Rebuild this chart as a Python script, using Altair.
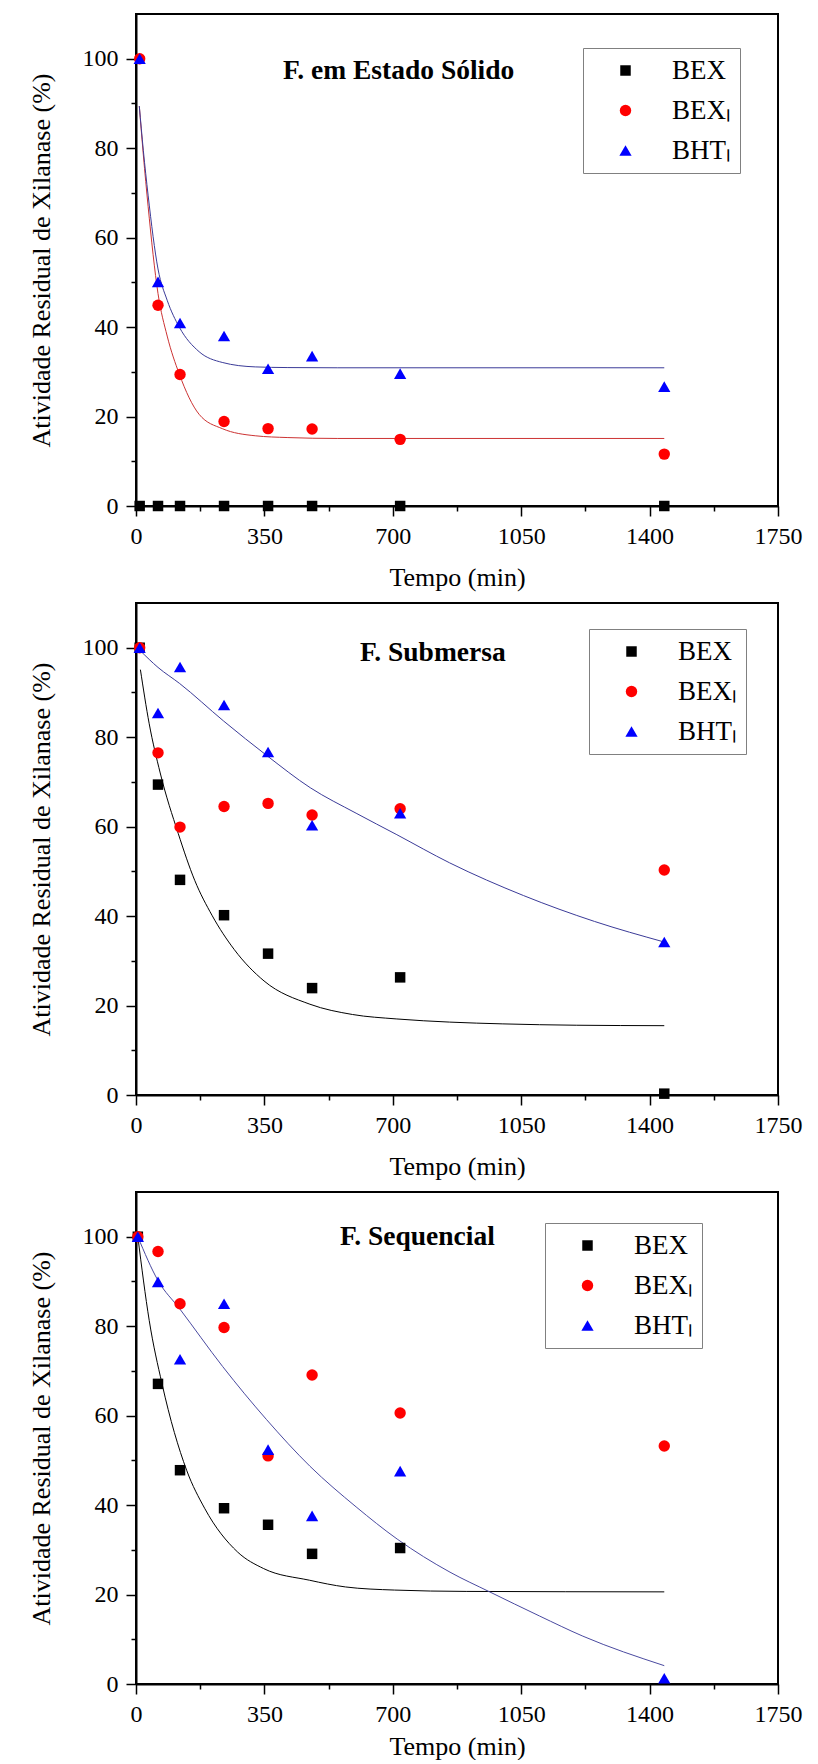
import altair as alt
import pandas as pd

SERIES = ["BEX", "BEX\u2097", "BHT\u2097"]
COLORS = ["#000000", "#ff0000", "#0000ff"]
SHAPES = ["square", "circle", "triangle-up"]
SIZES = [110, 150, 170]

X_TICKS = [0, 175, 350, 525, 700, 875, 1050, 1225, 1400, 1575, 1750]
Y_TICKS = [0, 10, 20, 30, 40, 50, 60, 70, 80, 90, 100]

# Panel 1: F. em Estado Sólido
p1_t = [10, 60, 120, 240, 360, 480, 720, 1440]
p1_bex = [0, 0, 0, 0, 0, 0, 0, 0]
p1_bexl = [100, 44.9, 29.4, 18.9, 17.3, 17.2, 14.9, 11.6]
p1_bhtl = [100, 50.1, 40.9, 38.0, 30.7, 33.5, 29.6, 26.7]
p1_fit_t = [9, 20, 33, 60, 85, 118, 172, 235, 325, 414, 550, 1440]
p1_fit_bexl = [89.4, 78.5, 67, 47.5, 38, 29.5, 20.5, 17.3, 15.7, 15.3, 15.1, 15.1]
p1_fit_bhtl = [89.4, 79.5, 69.5, 53, 46, 40, 34.5, 32.1, 31.1, 30.95, 30.9, 30.9]

# Panel 2: F. Submersa
p2_t = [10, 60, 120, 240, 360, 480, 720, 1440]
p2_bex = [100, 69.4, 48.1, 40.2, 31.6, 23.9, 26.3, 0.3]
p2_bexl = [100, 76.5, 59.9, 64.5, 65.2, 62.6, 64.0, 50.3]
p2_bhtl = [100, 85.4, 95.7, 87.2, 76.7, 60.3, 63.0, 34.2]
p2_fit_bex_t = [12, 36, 66, 115, 160, 207, 268, 349, 474, 590, 711, 855, 1000, 1200, 1440]
p2_fit_bex = [95.1, 83, 72, 58.5, 48, 40.2, 32.5, 25.5, 20.3, 18, 17, 16.3, 15.9, 15.6, 15.5]
p2_fit_bht_t = [12, 60, 119, 239, 358, 475, 600, 711, 855, 1056, 1250, 1440]
p2_fit_bht = [99.3, 95.6, 92.0, 83.6, 75.8, 68.7, 63, 58.2, 51.9, 44.6, 38.8, 34.2]

# Panel 3: F. Sequencial
p3_t = [5, 60, 120, 240, 360, 480, 720, 1440]
p3_bex = [100, 67.1, 47.8, 39.3, 35.6, 29.1, 30.4]
p3_bexl = [100, 96.7, 85.0, 79.7, 51.0, 69.1, 60.6, 53.2]
p3_bhtl = [100, 89.9, 72.6, 85.0, 52.4, 37.6, 47.6, 1.3]
p3_fit_bex_t = [5, 36, 71, 138, 187, 277, 348, 473, 571, 705, 900, 1440]
p3_fit_bex = [100, 81.3, 67.1, 47.8, 39.3, 29.5, 25.8, 23.2, 21.7, 21.0, 20.7, 20.6]
p3_fit_bht_t = [5, 60, 119, 236, 356, 474, 600, 712, 856, 964, 1100, 1218, 1440]
p3_fit_bht = [100, 90.2, 83.9, 71, 59.1, 48.7, 39.6, 32.4, 25, 20.6, 15.2, 10.7, 4.1]

FONT = "Liberation Serif"
X_TITLE = "Tempo (min)"
Y_TITLE = "Atividade Residual de Xilanase (%)"

W, H = 642, 492


def xenc(tpad):
    return alt.X(
        "t:Q",
        title=X_TITLE,
        scale=alt.Scale(domain=[0, 1750], nice=False, zero=False),
        axis=alt.Axis(
            values=X_TICKS,
            format="d",
            labelExpr="datum.value % 350 === 0 ? datum.label : ''",
            tickSize={"condition": {"test": "datum.value % 350 === 0", "value": 10}, "value": 5},
            grid=False,
            labelFlush=False,
            labelOverlap=False,
            labelFont=FONT,
            labelFontSize=24,
            titleFont=FONT,
            titleFontSize=26,
            titlePadding=tpad,
        ),
    )


def yenc():
    return alt.Y(
        "y:Q",
        title=Y_TITLE,
        scale=alt.Scale(domain=[0, 110], nice=False, zero=False),
        axis=alt.Axis(
            values=Y_TICKS,
            format="d",
            labelExpr="datum.value % 20 === 0 ? datum.label : ''",
            tickSize={"condition": {"test": "datum.value % 20 === 0", "value": 10}, "value": 5},
            grid=False,
            labelOverlap=False,
            labelFont=FONT,
            labelFontSize=24,
            titleFont=FONT,
            titleFontSize=26,
            titlePadding=28,
        ),
    )


def panel(t, series_vals, fits, title, tdx, tdy, lx, ly, tpad):
    rows = []
    for name, vals in zip(SERIES, series_vals):
        for ti, v in zip(t, vals):
            rows.append({"t": ti, "y": v, "series": name})
    leg = alt.Legend(
        title=None,
        orient="none",
        legendX=lx,
        legendY=ly,
        labelFont=FONT,
        labelFontSize=27,
        labelColor="black",
        labelLimit=0,
        symbolSize=125,
        symbolStrokeWidth=0,
        symbolOffset=20,
        labelOffset=33,
        rowPadding=12,
        padding=9,
        strokeColor="#808080",
    )
    pts = alt.Chart(pd.DataFrame(rows)).mark_point(filled=True, opacity=1).encode(
        x=xenc(tpad),
        y=yenc(),
        color=alt.Color("series:N", scale=alt.Scale(domain=SERIES, range=COLORS), legend=leg),
        shape=alt.Shape("series:N", scale=alt.Scale(domain=SERIES, range=SHAPES), legend=leg),
        size=alt.Size("series:N", scale=alt.Scale(domain=SERIES, range=SIZES), legend=None),
    )
    layers = []
    for ft, fy, col in fits:
        df = pd.DataFrame({"t": ft, "y": fy})
        layers.append(
            alt.Chart(df).mark_line(color=col, strokeWidth=1, interpolate="monotone").encode(
                x=alt.X("t:Q", title=X_TITLE), y=alt.Y("y:Q", title=Y_TITLE)
            )
        )
    layers.append(pts)
    return alt.layer(*layers).properties(
        width=W,
        height=H,
        title=alt.TitleParams(
            title,
            anchor="start",
            frame="group",
            orient="top",
            offset=0,
            dx=tdx,
            dy=tdy,
            baseline="alphabetic",
            font=FONT,
            fontSize=27.5,
            fontWeight="bold",
            color="black",
        ),
    )


c1 = panel(
    p1_t, [p1_bex, p1_bexl, p1_bhtl],
    [(p1_fit_t, p1_fit_bexl, "#cc3333"), (p1_fit_t, p1_fit_bhtl, "#3b3b98")],
    "F. em Estado Sólido", 147, 92, 447, 34, 16,
)
c2 = panel(
    p2_t, [p2_bex, p2_bexl, p2_bhtl],
    [(p2_fit_bex_t, p2_fit_bex, "#000000"), (p2_fit_bht_t, p2_fit_bht, "#3b3b98")],
    "F. Submersa", 224, 85, 453, 26, 16,
)
c3 = panel(
    p3_t, [p3_bex, p3_bexl, p3_bhtl],
    [(p3_fit_bex_t, p3_fit_bex, "#000000"), (p3_fit_bht_t, p3_fit_bht, "#4a4aa0")],
    "F. Sequencial", 204, 80, 409, 31, 7,
)

chart = alt.vconcat(c1, c2, c3, spacing=11).resolve_scale(
    color="independent", shape="independent", size="independent"
).properties(
    padding={"left": 27, "top": 13, "right": 0, "bottom": 0},
    background="white",
).configure(
    font=FONT
).configure_view(
    stroke="black", strokeWidth=2
).configure_axis(
    labelFont=FONT,
    labelFontSize=24,
    labelColor="black",
    labelPadding=8,
    titleFont=FONT,
    titleFontSize=26,
    titleFontWeight="normal",
    titleColor="black",
    domainColor="black",
    domainWidth=2,
    tickColor="black",
    tickWidth=1.5,
)

chart.save("out.html", embed_options={"renderer": "svg", "actions": False})
